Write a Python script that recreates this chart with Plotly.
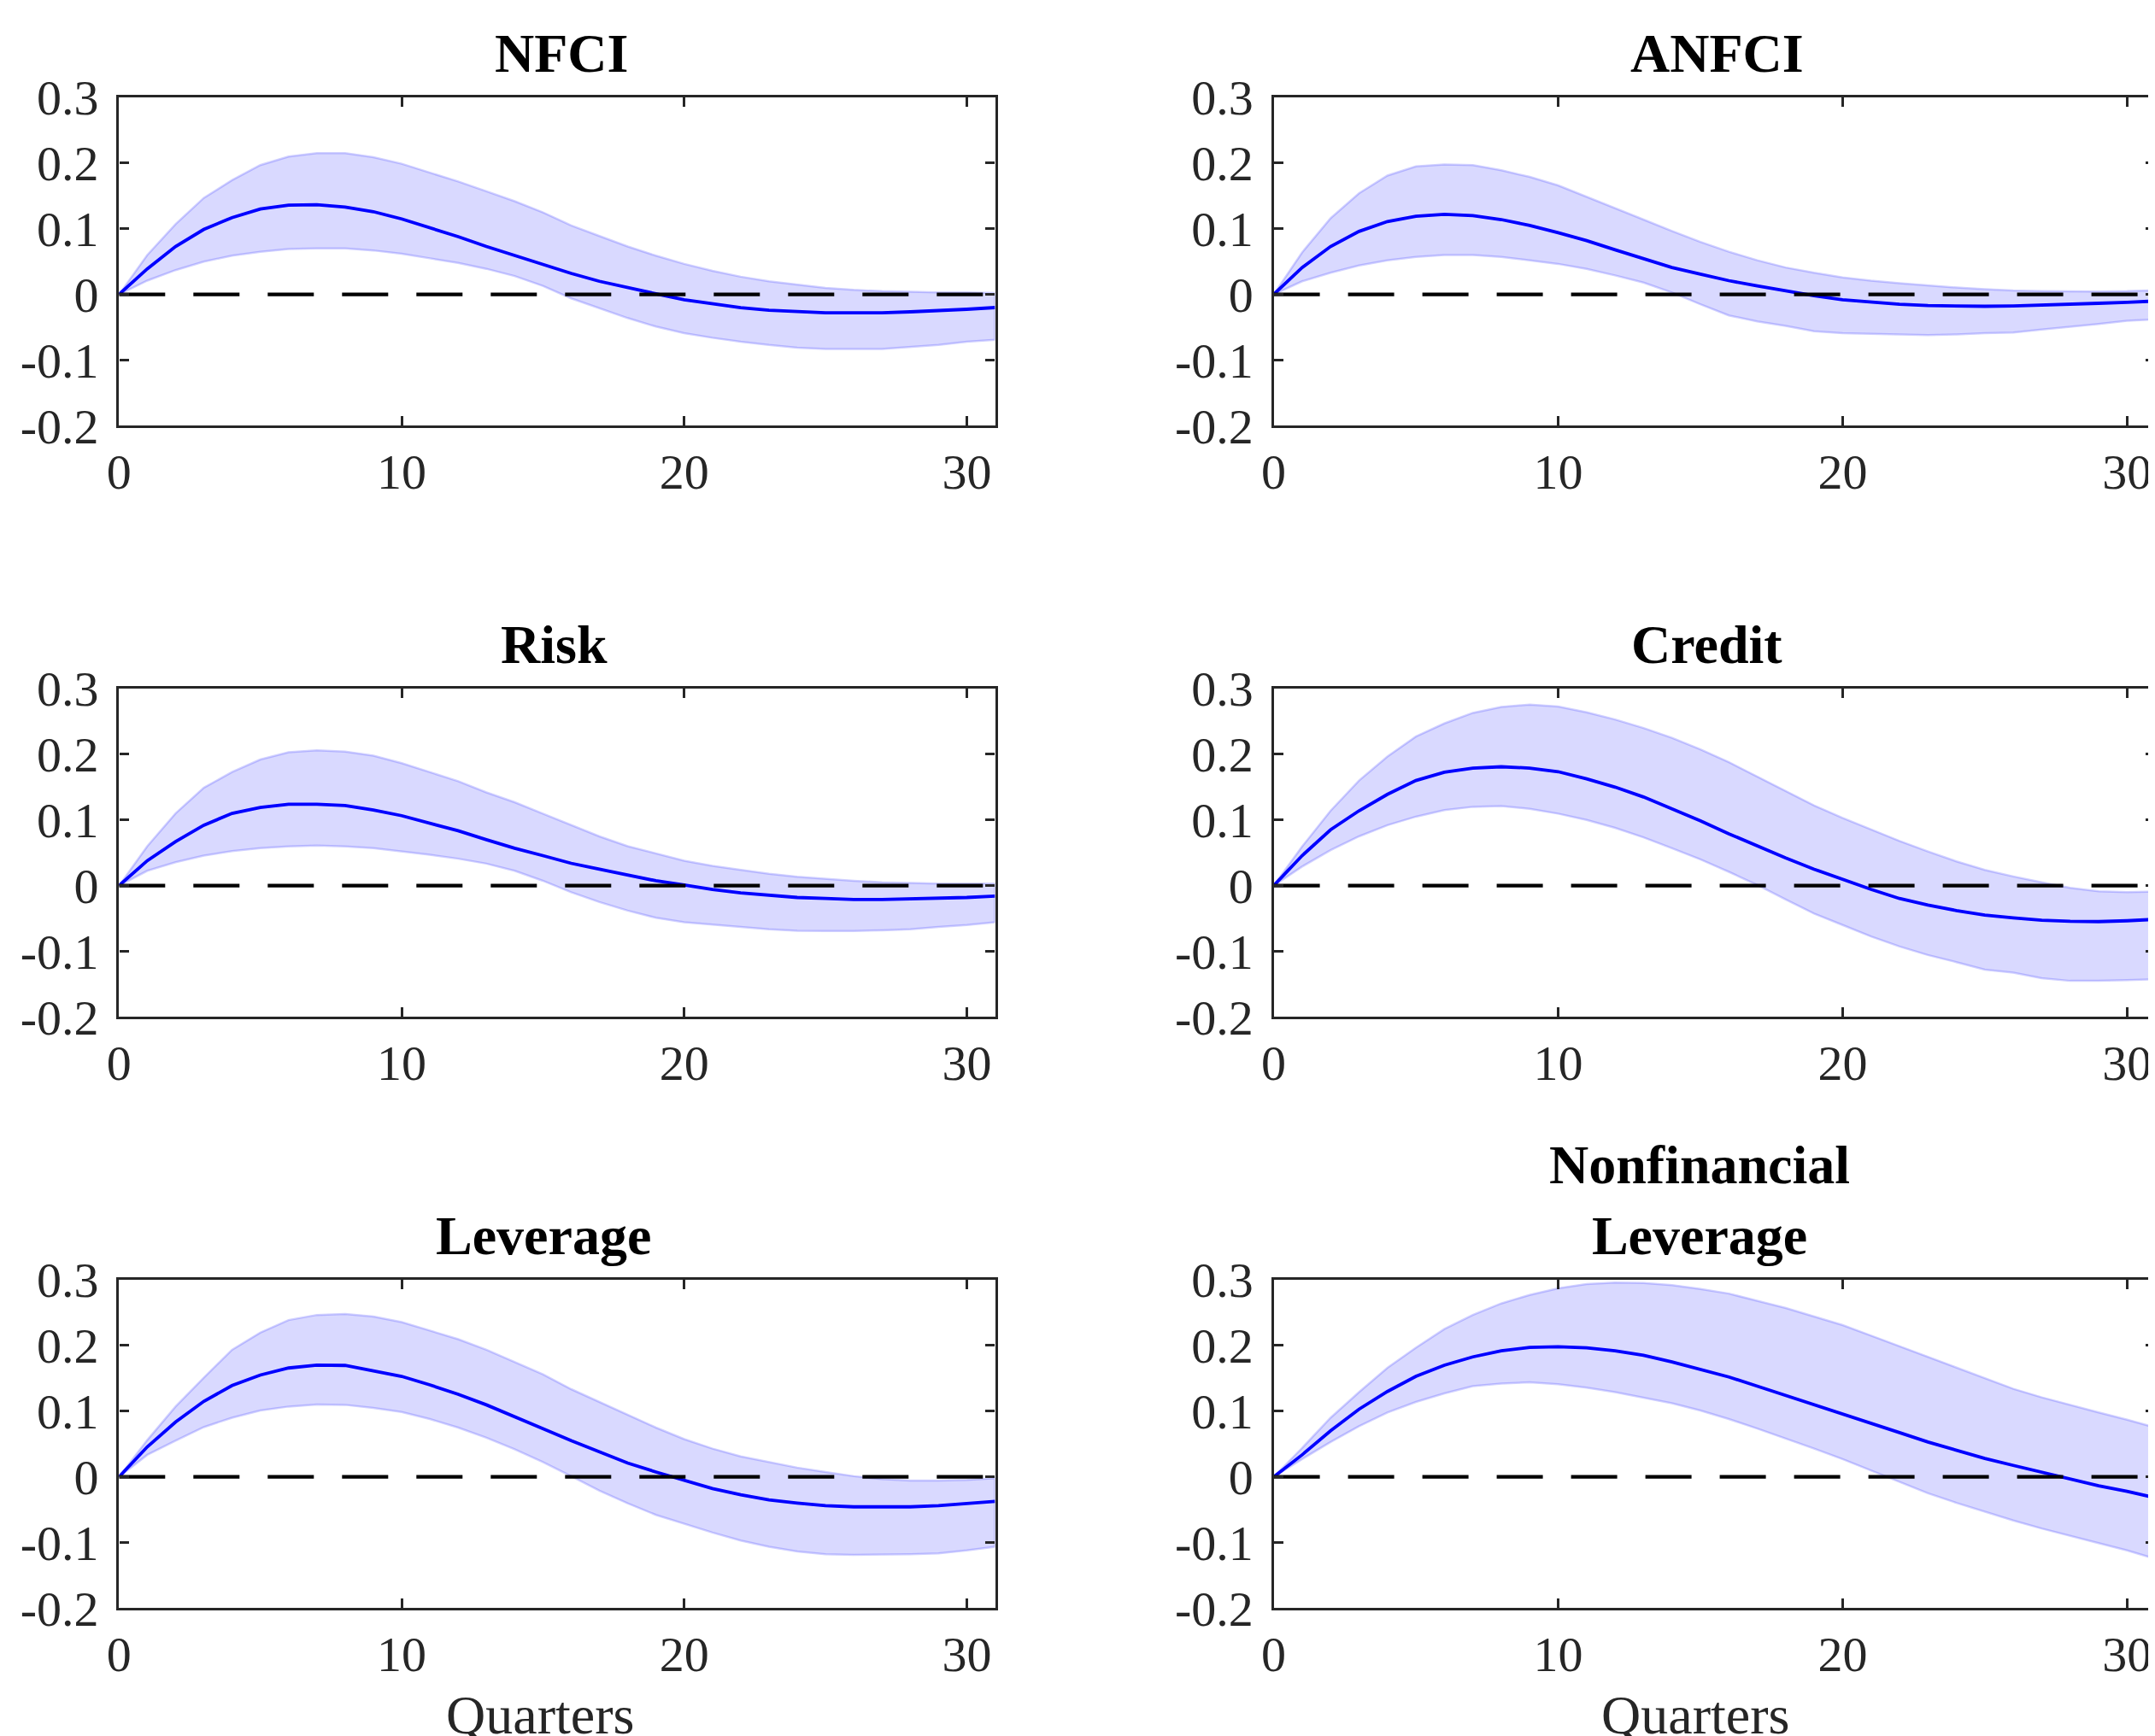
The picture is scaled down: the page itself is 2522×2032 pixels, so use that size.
import plotly.graph_objects as go

# ---------------- data ----------------
quarters = list(range(32))

titles = ["NFCI", "ANFCI", "Risk", "Credit", "Leverage", "Nonfinancial<br>Leverage"]

nfci_med = [0, 0.039, 0.073, 0.099, 0.117, 0.130, 0.136, 0.1365, 0.133, 0.126, 0.115, 0.102, 0.088,
            0.073, 0.059, 0.045, 0.032, 0.020, 0.010, 0.001, -0.008, -0.014, -0.020, -0.024, -0.0265,
            -0.028, -0.028, -0.028, -0.0265, -0.025, -0.0226, -0.020]
nfci_up = [0, 0.060, 0.107, 0.147, 0.174, 0.197, 0.210, 0.215, 0.215, 0.209, 0.199, 0.186, 0.172,
           0.157, 0.142, 0.125, 0.105, 0.089, 0.073, 0.059, 0.0465, 0.036, 0.027, 0.020, 0.015,
           0.010, 0.007, 0.005, 0.004, 0.003, 0.003, 0.002]
nfci_lo = [0, 0.021, 0.037, 0.050, 0.059, 0.065, 0.069, 0.070, 0.070, 0.067, 0.062, 0.055, 0.048,
           0.039, 0.028, 0.013, -0.006, -0.021, -0.036, -0.049, -0.059, -0.066, -0.072, -0.077,
           -0.081, -0.083, -0.083, -0.083, -0.080, -0.077, -0.072, -0.069]

anfci_med = [0, 0.041, 0.073, 0.096, 0.111, 0.119, 0.122, 0.120, 0.114, 0.105, 0.094, 0.082, 0.068,
             0.054, 0.041, 0.031, 0.021, 0.013, 0.005, -0.002, -0.008, -0.012, -0.015, -0.017,
             -0.018, -0.018, -0.0175, -0.0165, -0.015, -0.0135, -0.012, -0.010]
anfci_up = [0, 0.064, 0.116, 0.154, 0.181, 0.195, 0.198, 0.197, 0.189, 0.179, 0.166, 0.149, 0.132,
            0.114, 0.0965, 0.080, 0.065, 0.052, 0.041, 0.033, 0.026, 0.021, 0.017, 0.0135, 0.0105,
            0.008, 0.006, 0.005, 0.0045, 0.0045, 0.005, 0.0065]
anfci_lo = [0, 0.020, 0.033, 0.044, 0.052, 0.057, 0.060, 0.060, 0.057, 0.052, 0.0465, 0.039, 0.029,
            0.018, 0.003, -0.015, -0.032, -0.041, -0.048, -0.056, -0.059, -0.060, -0.061, -0.062,
            -0.061, -0.059, -0.058, -0.0535, -0.049, -0.045, -0.040, -0.038]

risk_med = [0, 0.038, 0.067, 0.092, 0.110, 0.119, 0.124, 0.124, 0.122, 0.115, 0.1065, 0.095, 0.0835,
            0.070, 0.057, 0.0457, 0.034, 0.025, 0.016, 0.0074, 0.001, -0.0057, -0.011, -0.015,
            -0.018, -0.0196, -0.021, -0.021, -0.0204, -0.0196, -0.018, -0.016]
risk_up = [0, 0.060, 0.110, 0.149, 0.173, 0.192, 0.203, 0.206, 0.204, 0.198, 0.1865, 0.173, 0.159,
           0.142, 0.127, 0.1096, 0.092, 0.075, 0.060, 0.0487, 0.038, 0.030, 0.024, 0.018, 0.0135,
           0.010, 0.0074, 0.0052, 0.004, 0.003, 0.003, 0.003]
risk_lo = [0, 0.0226, 0.0357, 0.0457, 0.0526, 0.057, 0.0596, 0.061, 0.0596, 0.057, 0.052, 0.047,
           0.041, 0.0335, 0.0226, 0.0074, -0.010, -0.025, -0.038, -0.049, -0.0557, -0.060, -0.063,
           -0.0665, -0.0687, -0.069, -0.069, -0.068, -0.0665, -0.063, -0.060, -0.0557]

credit_med = [0, 0.0457, 0.085, 0.114, 0.139, 0.160, 0.1726, 0.179, 0.181, 0.179, 0.1735, 0.1626,
              0.150, 0.135, 0.117, 0.0987, 0.079, 0.060, 0.042, 0.025, 0.0096, -0.0057, -0.0196,
              -0.0296, -0.038, -0.0448, -0.049, -0.0526, -0.0543, -0.0548, -0.0535, -0.0513]
credit_up = [0, 0.0596, 0.114, 0.160, 0.1965, 0.227, 0.247, 0.263, 0.272, 0.2757, 0.2726, 0.264,
             0.253, 0.240, 0.225, 0.2074, 0.188, 0.166, 0.144, 0.122, 0.103, 0.0857, 0.068, 0.052,
             0.037, 0.024, 0.014, 0.005, -0.0035, -0.0087, -0.010, -0.009]
credit_lo = [0, 0.029, 0.054, 0.075, 0.092, 0.105, 0.115, 0.120, 0.121, 0.117, 0.1096, 0.100, 0.088,
             0.0735, 0.057, 0.040, 0.021, 0.001, -0.021, -0.0426, -0.060, -0.0774, -0.0926, -0.1057,
             -0.1165, -0.128, -0.1326, -0.141, -0.145, -0.145, -0.144, -0.1426]

lev_med = [0, 0.0457, 0.0835, 0.115, 0.139, 0.155, 0.1657, 0.170, 0.1696, 0.1617, 0.153, 0.140,
           0.1257, 0.1096, 0.092, 0.0735, 0.055, 0.038, 0.021, 0.0074, -0.0057, -0.0178, -0.0274,
           -0.0352, -0.040, -0.044, -0.0457, -0.046, -0.0457, -0.044, -0.0413, -0.0374]
lev_up = [0, 0.056, 0.107, 0.151, 0.1935, 0.2196, 0.2387, 0.2465, 0.248, 0.244, 0.2357, 0.2226,
          0.2096, 0.1935, 0.175, 0.156, 0.1335, 0.114, 0.094, 0.075, 0.0574, 0.043, 0.031, 0.0226,
          0.014, 0.0074, 0.001, -0.0035, -0.0057, -0.0057, -0.0048, -0.002]
lev_lo = [0, 0.0335, 0.055, 0.0757, 0.090, 0.101, 0.107, 0.110, 0.1096, 0.105, 0.0987, 0.088, 0.075,
          0.0596, 0.042, 0.0226, 0.001, -0.021, -0.0404, -0.058, -0.0717, -0.0848, -0.097, -0.1065,
          -0.1135, -0.1178, -0.1187, -0.1187, -0.1178, -0.1165, -0.112, -0.1065]

nfl_med = [0, 0.0335, 0.070, 0.103, 0.130, 0.153, 0.170, 0.1826, 0.192, 0.197, 0.198, 0.1965, 0.192,
           0.185, 0.175, 0.164, 0.152, 0.138, 0.124, 0.1096, 0.0965, 0.0813, 0.0674, 0.053, 0.040,
           0.028, 0.0174, 0.0074, -0.0035, -0.0135, -0.022, -0.032]
nfl_up = [0, 0.044, 0.090, 0.129, 0.166, 0.1965, 0.225, 0.2465, 0.264, 0.277, 0.287, 0.2935, 0.2957,
          0.295, 0.292, 0.286, 0.279, 0.268, 0.257, 0.244, 0.231, 0.215, 0.199, 0.183, 0.167, 0.150,
          0.134, 0.121, 0.109, 0.098, 0.087, 0.075]
nfl_lo = [0, 0.027, 0.053, 0.077, 0.098, 0.114, 0.127, 0.138, 0.142, 0.144, 0.141, 0.1357, 0.129,
          0.121, 0.112, 0.101, 0.088, 0.0735, 0.0587, 0.043, 0.027, 0.0096, -0.0078, -0.025,
          -0.0396, -0.0535, -0.0665, -0.0787, -0.090, -0.101, -0.112, -0.125]

medians = [nfci_med, anfci_med, risk_med, credit_med, lev_med, nfl_med]
uppers = [nfci_up, anfci_up, risk_up, credit_up, lev_up, nfl_up]
lowers = [nfci_lo, anfci_lo, risk_lo, credit_lo, lev_lo, nfl_lo]

zero_x = [0, 31]
zero_y = [0, 0]

x_ticks = [0, 10, 20, 30]
x_ticktext = ["0", "10", "20", "30"]
y_ticks = [-0.2, -0.1, 0, 0.1, 0.2, 0.3]
y_ticktext = ["-0.2", "-0.1", "0", "0.1", "0.2", "0.3"]
x_label = "Quarters"

# ---------------- layout ----------------
W, H = 2522, 2032
FONT = "Liberation Serif"
AX = "rgb(38,38,38)"
OFF = 8  # page body margin offset

xdoms = [[(139.3 - OFF) / W, (1164.5 - OFF) / W], [(1490.6 - OFF) / W, (2522.6 - OFF) / W]]
row_tops = [114.0 - OFF, 806.0 - OFF, 1498.0 - OFF]
row_h = 384.4
title_px = [657 - OFF, 2009 - OFF, 648 - OFF, 1997 - OFF, 636 - OFF, 1989 - OFF]
xlabel_px = [632 - OFF, 1984 - OFF]
xlabel_top = 1970 - OFF

fig = go.Figure()
annotations = []

for i in range(6):
    r, c = divmod(i, 2)
    n = i + 1
    xa = "x" if n == 1 else f"x{n}"
    ya = "y" if n == 1 else f"y{n}"
    top = row_tops[r]
    ydom = [1 - (top + row_h) / H, 1 - top / H]

    band_x = quarters + quarters[::-1]
    band_y = uppers[i] + lowers[i][::-1]
    fig.add_trace(go.Scatter(x=band_x, y=band_y, fill="toself",
                             fillcolor="rgba(0,0,255,0.15)",
                             line=dict(color="rgba(0,0,255,0.18)", width=2.5),
                             mode="lines", xaxis=xa, yaxis=ya, hoverinfo="skip"))
    fig.add_trace(go.Scatter(x=quarters, y=medians[i], mode="lines",
                             line=dict(color="rgb(0,0,255)", width=3.8),
                             xaxis=xa, yaxis=ya))
    fig.add_trace(go.Scatter(x=zero_x, y=zero_y, mode="lines",
                             line=dict(color="black", width=4.2, dash="54px,33px"),
                             xaxis=xa, yaxis=ya))

    axis_common = dict(showline=True, linecolor=AX, linewidth=3.4, mirror="ticks",
                       ticks="inside", ticklen=11, tickwidth=3.4, tickcolor=AX,
                       showgrid=False, zeroline=False, automargin=False,
                       tickfont=dict(family=FONT, size=58, color=AX))
    fig.layout[("xaxis" if n == 1 else f"xaxis{n}")] = dict(
        domain=xdoms[c], range=[0, 31], anchor=ya,
        tickvals=x_ticks, ticktext=x_ticktext, ticklabelstandoff=1, **axis_common)
    fig.layout[("yaxis" if n == 1 else f"yaxis{n}")] = dict(
        domain=ydom, range=[-0.2, 0.3], anchor=xa,
        tickvals=y_ticks, ticktext=y_ticktext, ticklabelstandoff=9, **axis_common)

    annotations.append(dict(text=f"<b>{titles[i]}</b>", x=title_px[i] / W, y=1 - top / H,
                            xref="paper", yref="paper", xanchor="center", yanchor="bottom",
                            yshift=14, showarrow=False,
                            font=dict(family=FONT, size=64, color="black")))

for xc in xlabel_px:
    annotations.append(dict(text=x_label, x=xc / W, y=1 - xlabel_top / H, xref="paper", yref="paper",
                            xanchor="center", yanchor="top", showarrow=False,
                            font=dict(family=FONT, size=64, color=AX)))

fig.update_layout(width=W, height=H, margin=dict(l=0, r=0, t=0, b=0, autoexpand=False),
                  paper_bgcolor="white", plot_bgcolor="white",
                  showlegend=False, hovermode=False, annotations=annotations)

fig.write_html("out.html")
